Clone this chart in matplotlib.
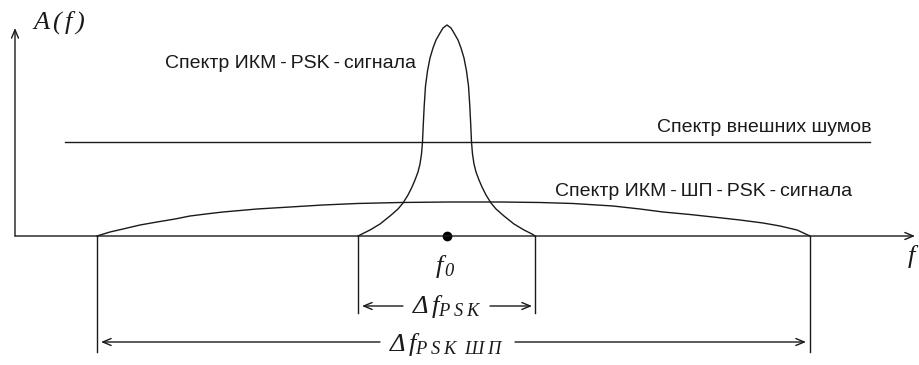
import numpy as np
import matplotlib.pyplot as plt

# narrow PCM-PSK spectrum (x, amplitude)
psk_x = [358, 362, 370, 380, 390, 398, 403, 408, 412, 415, 418, 420, 421.5, 422.5,
         423.2, 424.2, 425.5, 427.5, 430, 433, 436, 440, 443, 447,
         451, 454, 458, 461, 464, 466.5, 468.5, 469.8, 470.8, 471.5, 472.5, 474,
         476, 479, 482, 486, 491, 496, 504, 514, 524, 532, 535]
psk_a = [0, 2, 6, 12, 20, 27, 33, 41, 49, 56, 64, 72, 82, 94,
         110, 130, 150, 165, 178, 188, 196, 203, 208, 211,
         208, 203, 196, 188, 178, 165, 150, 130, 110, 94, 82, 72,
         64, 56, 49, 41, 33, 27, 20, 12, 6, 2, 0]

# wide spread-spectrum PCM-SS-PSK spectrum
ss_x = [97, 110, 123, 140, 157, 175, 190, 210, 223, 257, 290, 323, 357, 400,
        450, 500, 540, 573, 613, 640, 663, 690, 713, 740, 763, 780, 797, 810]
ss_a = [0, 4, 7, 11, 14, 17, 20, 22.5, 24, 27, 29, 31, 32.5, 33.5,
        34, 34, 33.5, 32.5, 30, 27, 24, 21.5, 19, 16, 13, 10, 6, 0]

# external noise level
noise_x = [65, 870]
noise_a = [94, 94]

f0 = 447
band_psk = (358, 535)
band_ss = (97, 810)

plt.rcParams['mathtext.fontset'] = 'custom'
plt.rcParams['mathtext.rm'] = 'Liberation Serif:italic'
plt.rcParams['mathtext.it'] = 'Liberation Serif:italic'

fig = plt.figure(figsize=(9.2, 3.65), dpi=100)
ax = fig.add_axes([0, 0, 1, 1])
ax.set_xlim(0, 920)
ax.set_ylim(236 - 365, 236)
ax.axis('off')

ink = '#1a1a1a'
lw = 1.0
arr = dict(arrowstyle='->, head_length=0.6, head_width=0.25', color=ink, lw=lw,
           shrinkA=0, shrinkB=0, mutation_scale=10)

# axes
ax.annotate('', xy=(915, 0), xytext=(15, 0), arrowprops=arr)
ax.annotate('', xy=(15, 208), xytext=(15, 0), arrowprops=arr)
ax.text(32, 213, r'$A\,(\,f\,)$', fontsize=19, va='center', ha='left', color=ink)
ax.text(907, -20, '$f$', fontsize=19, va='center', ha='left', color=ink)

# spectra
ax.plot(psk_x, psk_a, color=ink, lw=lw)
ax.plot(ss_x, ss_a, color=ink, lw=lw)
ax.plot(noise_x, noise_a, color=ink, lw=lw)
ax.plot([f0], [0], 'o', color='black', ms=6)

sans = ['Liberation Sans', 'DejaVu Sans']
ts = '\u2009'
ax.text(165, 173, f'Спектр ИКМ{ts}-{ts}PSK{ts}-{ts}сигнала', family=sans, fontsize=14,
        va='center', color=ink)
ax.text(657, 109, 'Спектр внешних шумов', family=sans, fontsize=14, va='center', color=ink)
ax.text(555, 44, f'Спектр ИКМ{ts}-{ts}ШП{ts}-{ts}PSK{ts}-{ts}сигнала', family=sans,
        fontsize=14, va='center', color=ink)

ax.text(f0 - 2, -30, r'$f_{\,0}$', fontsize=19, ha='center', va='center', color=ink)

# bandwidth markers
for xb in band_psk:
    ax.plot([xb, xb], [0, -77], color=ink, lw=lw)
for xb in band_ss:
    ax.plot([xb, xb], [0, -116], color=ink, lw=lw)

y1 = -70
ax.annotate('', xy=(band_psk[0] + 4, y1), xytext=(403, y1), arrowprops=arr)
ax.annotate('', xy=(band_psk[1] - 3, y1), xytext=(490, y1), arrowprops=arr)
ax.text(f0, y1, r'$\Delta\,f_{P\;S\;K}$', fontsize=19, ha='center', va='center', color=ink)

y2 = -106
ax.annotate('', xy=(band_ss[0] + 4, y2), xytext=(380, y2), arrowprops=arr)
ax.annotate('', xy=(band_ss[1] - 4, y2), xytext=(515, y2), arrowprops=arr)
ax.text(f0, y2 - 2, r'$\Delta\,f_{P\;S\;K\ \ Ш\;П}$', fontsize=19, ha='center',
        va='center', color=ink)

fig.savefig('out.png', dpi=100)
